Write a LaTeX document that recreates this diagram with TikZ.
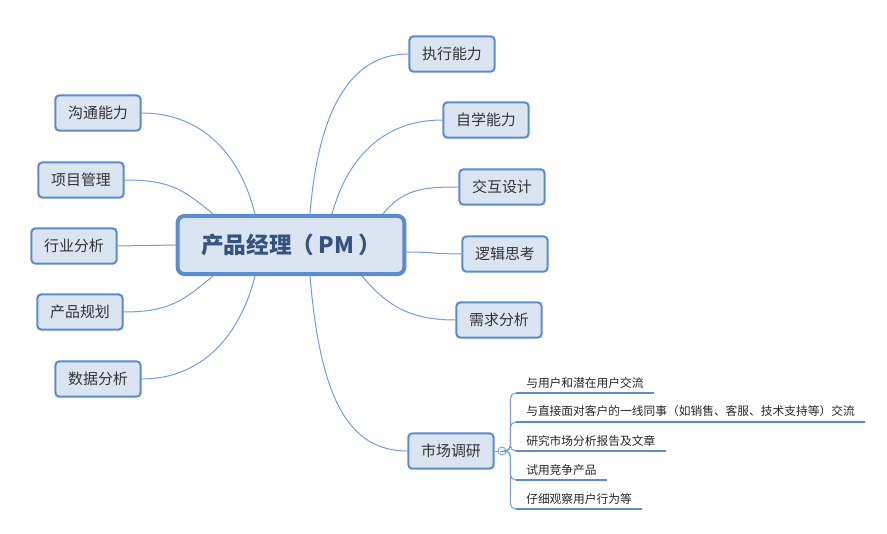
\documentclass[tikz,border=0pt]{standalone}
\usepackage{fontspec}
\setmainfont{Noto Sans CJK SC}
\usetikzlibrary{calc}
\definecolor{boxfill}{HTML}{DBE5F1}
\definecolor{boxline}{HTML}{5B8BD0}
\definecolor{branch}{HTML}{729DD8}
\definecolor{pmtext}{HTML}{34537F}
\definecolor{topictext}{HTML}{333333}
\begin{document}
\begin{tikzpicture}[x=0.75pt, y=-0.75pt,
    root/.style={draw=boxline, fill=boxfill, line width=3pt, rounded corners=5pt, minimum width=170pt, minimum height=43.5pt, inner sep=0pt, font=\fontsize{17}{20}\selectfont\bfseries, text=pmtext},
    topic/.style={draw=boxline, fill=boxfill, line width=1.5pt, rounded corners=3pt, minimum width=64pt, minimum height=26.5pt, inner sep=0pt, font=\fontsize{11.2}{13}\selectfont, text=topictext},
    leaf/.style={anchor=south west, inner xsep=7.5pt, inner ysep=3.5pt, font=\fontsize{8.8}{10}\selectfont, text=black!85},
    link/.style={draw=branch, line width=0.75pt},
    under/.style={draw=boxline, line width=1.5pt}]
    \useasboundingbox (0,0) rectangle (887,534);
    \node[root] (pm) at (291,245) {产品经理（\hspace{3pt}PM\hspace{3pt}）};
    \node[topic] (exec) at (452,54) {执行能力};
    \node[topic] (selflearn) at (486,120) {自学能力};
    \node[topic] (interact) at (502,187) {交互设计};
    \node[topic] (logic) at (505,254) {逻辑思考};
    \node[topic] (demand) at (499,320) {需求分析};
    \node[topic] (market) at (451,451) {市场调研};
    \node[topic] (comm) at (98,113) {沟通能力};
    \node[topic] (project) at (81,180) {项目管理};
    \node[topic] (industry) at (74,246) {行业分析};
    \node[topic] (plan) at (80,312) {产品规划};
    \node[topic] (data) at (98,379) {数据分析};
    \draw[link] ($(pm.north)+(-36,0)$) .. controls +(-15,-60) and +(60,0) .. (comm.east);
    \draw[link] ($(pm.north)+(-78,0)$) .. controls +(-30,-25) and +(45,0) .. (project.east);
    \draw[link] (pm.west) -- (industry.east);
    \draw[link] ($(pm.south)+(-78,0)$) .. controls +(-30,25) and +(45,0) .. (plan.east);
    \draw[link] ($(pm.south)+(-36,0)$) .. controls +(-15,60) and +(60,0) .. (data.east);
    \draw[link] ($(pm.north)+(19,0)$) .. controls +(8,-100) and +(-60,0) .. (exec.west);
    \draw[link] ($(pm.north)+(41,0)$) .. controls +(15,-55) and +(-60,0) .. (selflearn.west);
    \draw[link] ($(pm.north)+(92,0)$) .. controls +(20,-25) and +(-35,0) .. (interact.west);
    \draw[link] ($(pm.east)+(0,7)$) .. controls +(25,0) and +(-25,0) .. (logic.west);
    \draw[link] ($(pm.south)+(71,0)$) .. controls +(25,30) and +(-45,0) .. (demand.west);
    \draw[link] ($(pm.south)+(19,0)$) .. controls +(10,120) and +(-60,0) .. (market.west);
    \node[circle, draw=branch, fill=white, line width=0.6pt, minimum size=6pt, inner sep=0pt] (fold) at (502,451) {};
    \draw[branch, line width=0.6pt] ($(fold.west)+(2,0)$) -- ($(fold.east)+(-2,0)$);
    \draw[link] (market.east) -- (fold.west);
    \node[leaf] (talkuser) at (516,393) {与用户和潜在用户交流};
    \node[leaf] (talkstaff) at (516,422) {与直接面对客户的一线同事（如销售、客服、技术支持等）交流};
    \node[leaf] (report) at (516,451) {研究市场分析报告及文章};
    \node[leaf] (trial) at (516,480) {试用竞争产品};
    \node[leaf] (observe) at (516,509) {仔细观察用户行为等};
    \foreach \n in {talkuser,talkstaff,report,trial,observe} {
      \draw[link, rounded corners=4pt] (fold.east) -- ++(4,0) |- (\n.south west);
      \draw[under] (\n.south west) -- (\n.south east);
    }
\end{tikzpicture}
\end{document}
